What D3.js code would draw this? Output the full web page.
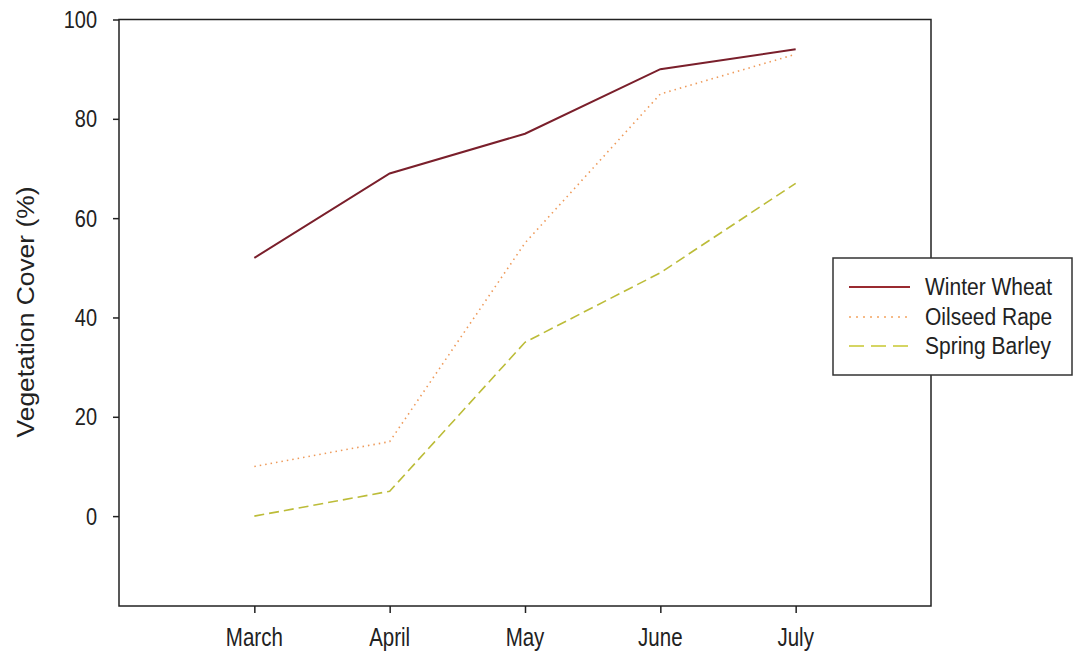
<!DOCTYPE html>
<html><head><meta charset="utf-8">
<script src="https://cdn.jsdelivr.net/npm/d3@7"></script>
<style>body{margin:0;background:#fff;} svg{display:block;}</style>
</head><body>
<svg id="chart" width="1076" height="653"></svg>
<script>
const months = ["March", "April", "May", "June", "July"];
const winterWheat = [52, 69, 77, 90, 94];
const oilseedRape = [10, 15, 55, 85, 93];
const springBarley = [0, 5, 35, 49, 67];
const yTicks = [0, 20, 40, 60, 80, 100];
const seriesNames = ["Winter Wheat", "Oilseed Rape", "Spring Barley"];

const FONT = "Liberation Sans, Arial, sans-serif";
const series = [
  {name: seriesNames[0], values: winterWheat, color: "#7a1f2b", legendColor: "#9a2a30", dash: null, legendDash: null, width: 2},
  {name: seriesNames[1], values: oilseedRape, color: "#ee9a5a", legendColor: "#f4a460", dash: "1.5,4", legendDash: "2,5", width: 1.6},
  {name: seriesNames[2], values: springBarley, color: "#bcbc38", legendColor: "#c8c830", dash: "10,5", legendDash: "15,7", width: 1.6}
];

const svg = d3.select("#chart");
const L = 119, R = 931, T = 19.5, B = 606;
const x = d3.scaleLinear().domain([-1, 5]).range([L, R]);
const y = d3.scaleLinear().domain([-18.1, 100]).range([B, T]);

svg.append("rect").attr("x", L).attr("y", T).attr("width", R - L).attr("height", B - T)
  .attr("fill", "none").attr("stroke", "#222").attr("stroke-width", 1.5);

const yAxis = svg.append("g").attr("transform", `translate(${L},0)`)
  .call(d3.axisLeft(y).tickValues(yTicks).tickSize(6).tickFormat(""));
yAxis.select(".domain").remove();
yAxis.selectAll("line").attr("stroke", "#222").attr("stroke-width", 1.5);
yTicks.forEach(v => {
  svg.append("text").attr("transform", `translate(97,${y(v) + 8.5}) scale(1,1.2)`)
    .attr("text-anchor", "end").attr("font-family", FONT).attr("font-size", 20)
    .attr("fill", "#222").text(d3.format("d")(v));
});

const xAxis = svg.append("g").attr("transform", `translate(0,${B})`)
  .call(d3.axisBottom(x).tickValues(d3.range(months.length)).tickSize(7).tickFormat(""));
xAxis.select(".domain").remove();
xAxis.selectAll("line").attr("stroke", "#222").attr("stroke-width", 1.5);
months.forEach((m, i) => {
  svg.append("text").attr("transform", `translate(${x(i)},646) scale(1,1.25)`)
    .attr("text-anchor", "middle").attr("font-family", FONT).attr("font-size", 20.5)
    .attr("fill", "#222").text(m);
});

svg.append("text").attr("transform", "translate(34,312) rotate(-90) scale(1.1,1)")
  .attr("text-anchor", "middle").attr("font-family", FONT)
  .attr("font-size", 24).attr("fill", "#222").text("Vegetation Cover (%)");

const line = d3.line().x((d, i) => x(i)).y(d => y(d));
series.forEach(s => {
  svg.append("path").datum(s.values).attr("d", line).attr("fill", "none")
    .attr("stroke", s.color).attr("stroke-width", s.width)
    .attr("stroke-dasharray", s.dash);
});

const lg = svg.append("g");
lg.append("rect").attr("x", 833).attr("y", 258).attr("width", 239).attr("height", 117)
  .attr("fill", "#fff").attr("stroke", "#333").attr("stroke-width", 1.5);
const rowsY = [287, 317, 346];
series.forEach((s, i) => {
  lg.append("line").attr("x1", 849).attr("x2", 910).attr("y1", rowsY[i]).attr("y2", rowsY[i])
    .attr("stroke", s.legendColor).attr("stroke-width", s.width).attr("stroke-dasharray", s.legendDash);
  lg.append("text").attr("transform", `translate(925,${rowsY[i] + 7.5}) scale(1,1.12)`)
    .attr("font-family", FONT).attr("font-size", 21)
    .attr("fill", "#222").text(s.name);
});
</script>
</body></html>
